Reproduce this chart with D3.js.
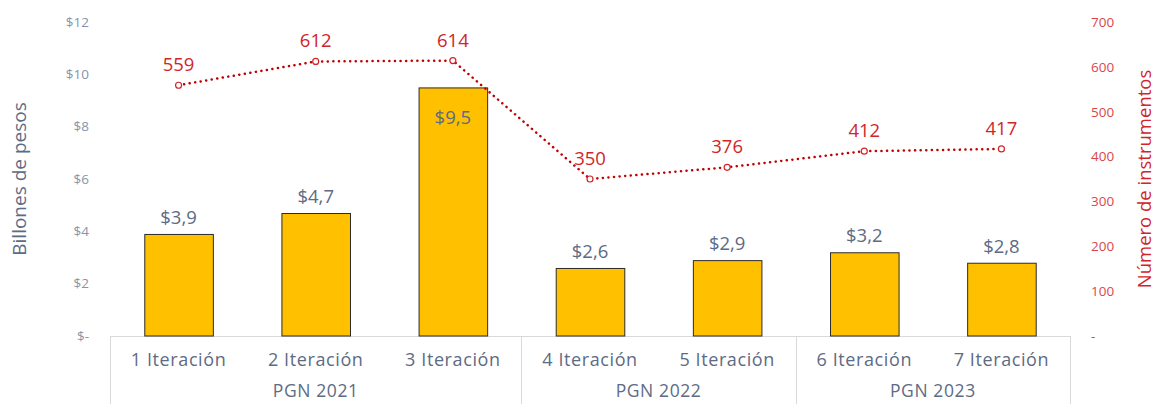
<!DOCTYPE html>
<html>
<head>
<meta charset="utf-8">
<script src="https://cdn.jsdelivr.net/npm/d3@7"></script>
<style>
  body { margin: 0; background: #fff; }
  text { font-family: "Open Sans", "Noto Sans", sans-serif; }
</style>
</head>
<body>
<div id="chart"></div>
<script>
// data
const iterations = ["1 Iteración", "2 Iteración", "3 Iteración", "4 Iteración", "5 Iteración", "6 Iteración", "7 Iteración"];
const groups = ["PGN 2021", "PGN 2021", "PGN 2021", "PGN 2022", "PGN 2022", "PGN 2023", "PGN 2023"];
const billions = [3.9, 4.7, 9.5, 2.6, 2.9, 3.2, 2.8];
const instruments = [559, 612, 614, 350, 376, 412, 417];
const leftTicks = [0, 2, 4, 6, 8, 10, 12];
const rightTicks = [0, 100, 200, 300, 400, 500, 600, 700];

const width = 1159, height = 404;
const m = {top: 22, right: 89, bottom: 68, left: 110};

const svg = d3.select("#chart").append("svg")
  .attr("width", width)
  .attr("height", height);

// outer padding = half the inner one, so each slot is exactly one step wide
const x = d3.scaleBand()
  .domain(iterations)
  .range([m.left, width - m.right])
  .paddingInner(0.5)
  .paddingOuter(0.25);

const y = d3.scaleLinear()
  .domain([0, 12])
  .range([height - m.bottom, m.top]);

const y2 = d3.scaleLinear()
  .domain([0, 700])
  .range([height - m.bottom, m.top]);

const fmt = d => d === 0 ? "$-" : "$" + d;
const comma = d => "$" + d.toFixed(1).replace(".", ",");

// left axis
svg.append("g")
  .attr("transform", `translate(${m.left - 18},0)`)
  .call(d3.axisLeft(y).tickValues(leftTicks).tickFormat(fmt).tickSize(0))
  .call(g => g.select(".domain").remove())
  .call(g => g.selectAll("text")
    .attr("fill", "#8a93a6")
    .attr("font-size", 13.5));

// right axis
svg.append("g")
  .attr("transform", `translate(${width - m.right + 18},0)`)
  .call(d3.axisRight(y2).tickValues(rightTicks).tickFormat(d => d === 0 ? "-" : d).tickSize(0))
  .call(g => g.select(".domain").remove())
  .call(g => g.selectAll("text")
    .attr("fill", "#d9474c")
    .attr("font-size", 13.5));

// axis titles
svg.append("text")
  .attr("transform", `translate(26,${(m.top + height - m.bottom) / 2}) rotate(-90)`)
  .attr("text-anchor", "middle")
  .attr("fill", "#5d6b84")
  .attr("font-size", 19)
  .text("Billones de pesos");

svg.append("text")
  .attr("transform", `translate(1151,${(m.top + height - m.bottom) / 2}) rotate(-90)`)
  .attr("text-anchor", "middle")
  .attr("fill", "#d0262b")
  .attr("font-size", 18.5)
  .text("Número de instrumentos");

// category box: baseline and group separators
const base = height - m.bottom;
const step = x.step();
const edge = i => m.left + i * step;

const groupNames = Array.from(new Set(groups));
const groupSpans = groupNames.map(g => {
  const idx = groups.map((d, i) => d === g ? i : -1).filter(i => i >= 0);
  return {name: g, start: idx[0], end: idx[idx.length - 1] + 1};
});

const box = svg.append("g").attr("stroke", "#d9d9d9").attr("stroke-width", 1);
box.append("line")
  .attr("x1", m.left).attr("x2", width - m.right)
  .attr("y1", base + 0.5).attr("y2", base + 0.5);
const bounds = [0].concat(groupSpans.map(s => s.end));
box.selectAll("line.sep")
  .data(bounds)
  .join("line")
    .attr("class", "sep")
    .attr("x1", d => Math.round(edge(d)) + 0.5)
    .attr("x2", d => Math.round(edge(d)) + 0.5)
    .attr("y1", base)
    .attr("y2", height);

// category labels
svg.append("g")
  .selectAll("text")
  .data(iterations)
  .join("text")
    .attr("x", d => x(d) + x.bandwidth() / 2)
    .attr("y", base + 30)
    .attr("text-anchor", "middle")
    .attr("fill", "#5d6b84")
    .attr("font-size", 18)
    .attr("letter-spacing", 0.6)
    .text(d => d);

svg.append("g")
  .selectAll("text")
  .data(groupSpans)
  .join("text")
    .attr("x", d => (edge(d.start) + edge(d.end)) / 2)
    .attr("y", base + 61)
    .attr("text-anchor", "middle")
    .attr("fill", "#5d6b84")
    .attr("font-size", 17.5)
    .attr("letter-spacing", 0.6)
    .text(d => d.name);

// bars
svg.append("g")
  .selectAll("rect")
  .data(billions)
  .join("rect")
    .attr("x", (d, i) => x(iterations[i]) + 0.5)
    .attr("y", d => y(d) + 0.5)
    .attr("width", x.bandwidth())
    .attr("height", d => base - y(d) - 0.5)
    .attr("fill", "#ffc000")
    .attr("stroke", "#2b2b2b")
    .attr("stroke-width", 1);

// bar value labels
svg.append("g")
  .selectAll("text")
  .data(billions)
  .join("text")
    .attr("x", (d, i) => x(iterations[i]) + x.bandwidth() / 2)
    .attr("y", d => d > 8 ? y(d) + 37 : y(d) - 10)
    .attr("text-anchor", "middle")
    .attr("fill", "#5d6b84")
    .attr("font-size", 18.5)
    .text(d => comma(d));

// instruments line
const cx = (d, i) => x(iterations[i]) + x.bandwidth() / 2;
const line = d3.line()
  .x(cx)
  .y(d => y2(d));

svg.append("path")
  .datum(instruments)
  .attr("d", line)
  .attr("fill", "none")
  .attr("stroke", "#c00000")
  .attr("stroke-width", 2.5)
  .attr("stroke-linecap", "round")
  .attr("stroke-dasharray", "0.1 5.5");

svg.append("g")
  .selectAll("circle")
  .data(instruments)
  .join("circle")
    .attr("cx", cx)
    .attr("cy", d => y2(d))
    .attr("r", 3)
    .attr("fill", "#fff")
    .attr("stroke", "#d0262b")
    .attr("stroke-width", 1.2);

svg.append("g")
  .selectAll("text")
  .data(instruments)
  .join("text")
    .attr("x", cx)
    .attr("y", d => y2(d) - 14)
    .attr("text-anchor", "middle")
    .attr("fill", "#d0262b")
    .attr("font-size", 18.5)
    .text(d => d);
</script>
</body>
</html>
